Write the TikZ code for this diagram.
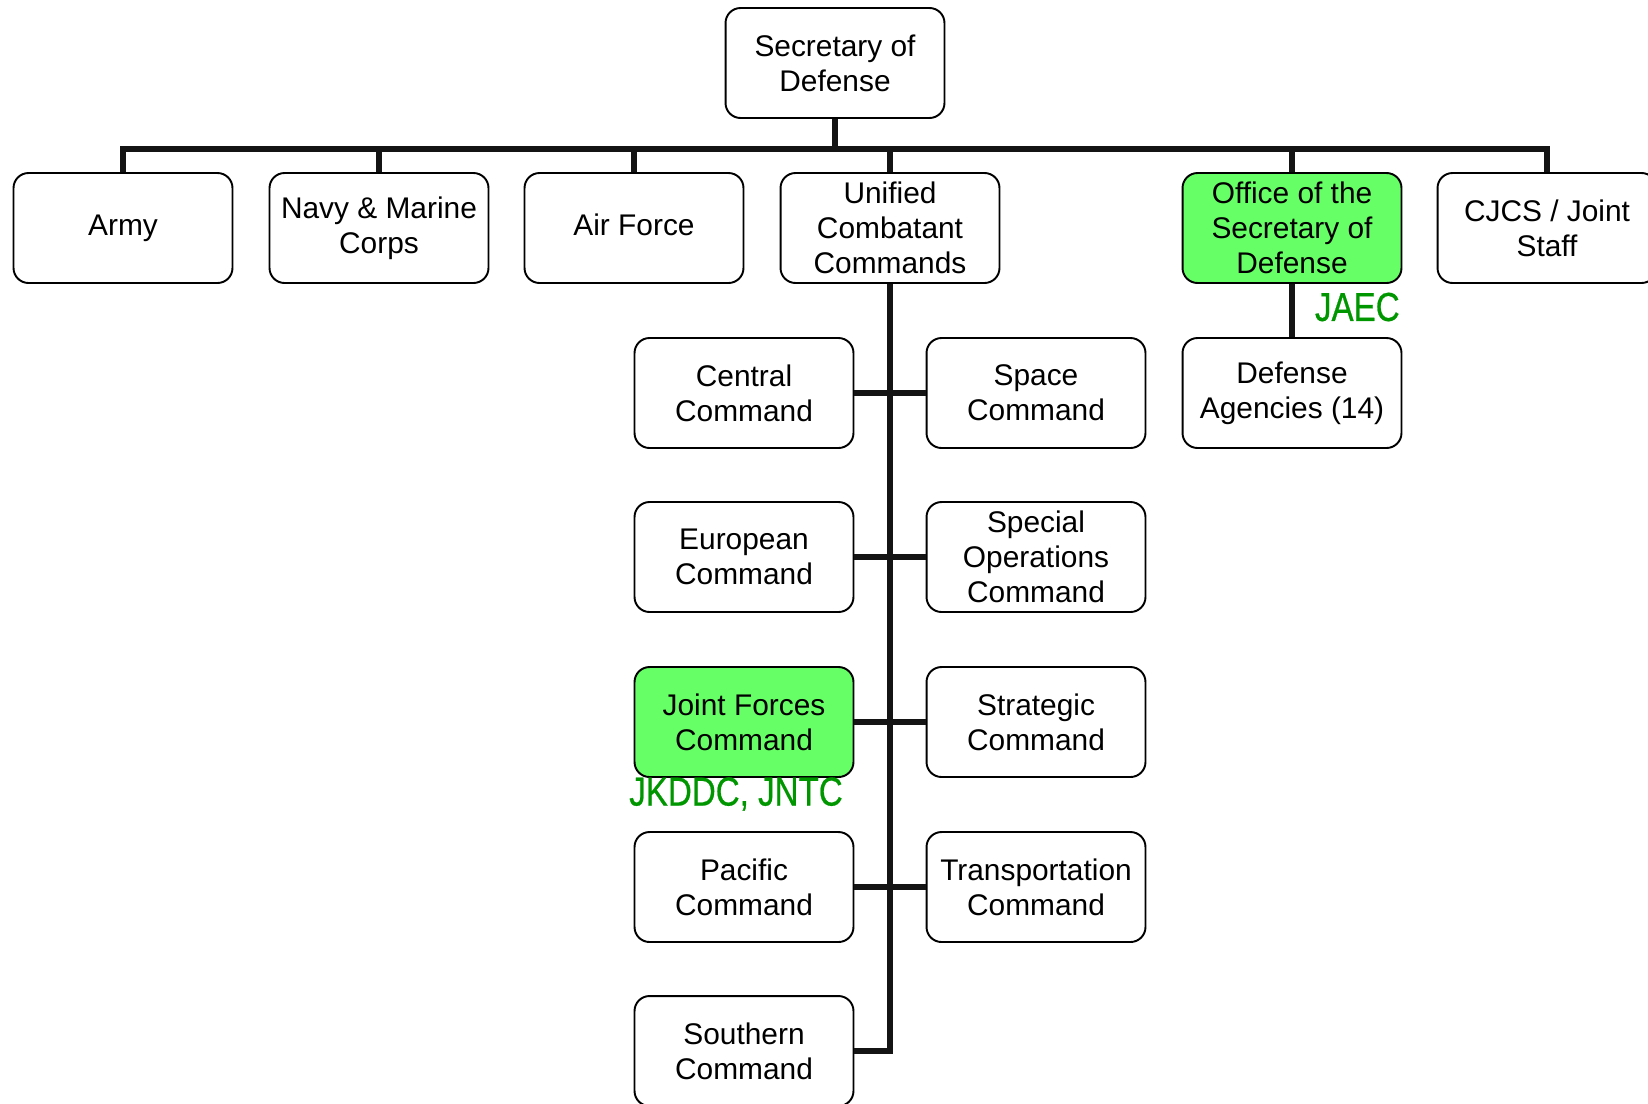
\documentclass[tikz,border=0pt]{standalone}
\usepackage{fontspec}
\setmainfont{Liberation Sans}
\newfontfamily\narrowfont[FakeStretch=0.82, FakeBold=0.6]{Liberation Sans}
\usetikzlibrary{positioning}
\definecolor{boxgreen}{RGB}{102,255,102}
\definecolor{labelgreen}{RGB}{0,150,0}
\tikzset{
    unit/.style={draw, line width=1.1pt, rounded corners=0.3cm, minimum width=4.38cm,
        minimum height=2.2cm, align=center, inner sep=0pt,
        font=\fontsize{17}{19.9}\selectfont},
    hot/.style={unit, fill=boxgreen},
    link/.style={line width=3.2pt, color=black!92},
    tag/.style={text=labelgreen, inner sep=0pt, font=\narrowfont\fontsize{23}{26}\selectfont},
}

\begin{document}
\begin{tikzpicture}[x=0.02cm, y=-0.02cm]
    \useasboundingbox (0,0) rectangle (1648,1103);

    \node[unit] (secdef) at (835,63) {Secretary of\\Defense};

    % top row
    \node[unit] (army) at (123,228) {\strut Army};
    \node[unit] (navy) at (379,228) {Navy \& Marine\\Corps};
    \node[unit] (airforce) at (634,228) {\strut Air Force};
    \node[unit] (ucc) at (890,228) {Unified\\Combatant\\Commands};
    \node[hot] (osd) at (1292,228) {Office of the\\Secretary of\\Defense};
    \node[unit] (cjcs) at (1547,228) {CJCS / Joint\\Staff};

    \node[unit] (agencies) at (1292,393) {Defense\\Agencies (14)};

    % combatant commands
    \node[unit] (central) at (744,393) {Central\\Command};
    \node[unit] (space) at (1036,393) {Space\\Command};
    \node[unit] (european) at (744,557) {European\\Command};
    \node[unit] (specops) at (1036,557) {Special\\Operations\\Command};
    \node[hot] (jfcom) at (744,722) {Joint Forces\\Command};
    \node[unit] (strategic) at (1036,722) {Strategic\\Command};
    \node[unit] (pacific) at (744,887) {Pacific\\Command};
    \node[unit] (transport) at (1036,887) {Transportation\\Command};
    \node[unit] (southern) at (744,1051) {Southern\\Command};

    \node[tag, anchor=east] (jaec) at (1400,307) {JAEC};
    \node[tag] (jkddc) at (736,794) {JKDDC, JNTC};

    \coordinate (bus) at (835,149);

    \draw[link] (secdef.south) -- (bus);
    \draw[link] (army.north) -- (army.north |- bus) -- (cjcs.north |- bus) -- (cjcs.north);
    \foreach \n in {navy, airforce, ucc, osd}
        \draw[link] (\n.north) -- (\n.north |- bus);

    \draw[link] (osd.south) -- (agencies.north);

    \draw[link] (ucc.south) -- (ucc.south |- southern.east) -- (southern.east);
    \foreach \n in {central, european, jfcom, pacific}
        \draw[link] (\n.east) -- (\n.east -| ucc.south);
    \foreach \n in {space, specops, strategic, transport}
        \draw[link] (\n.west) -- (\n.west -| ucc.south);
\end{tikzpicture}
\end{document}
